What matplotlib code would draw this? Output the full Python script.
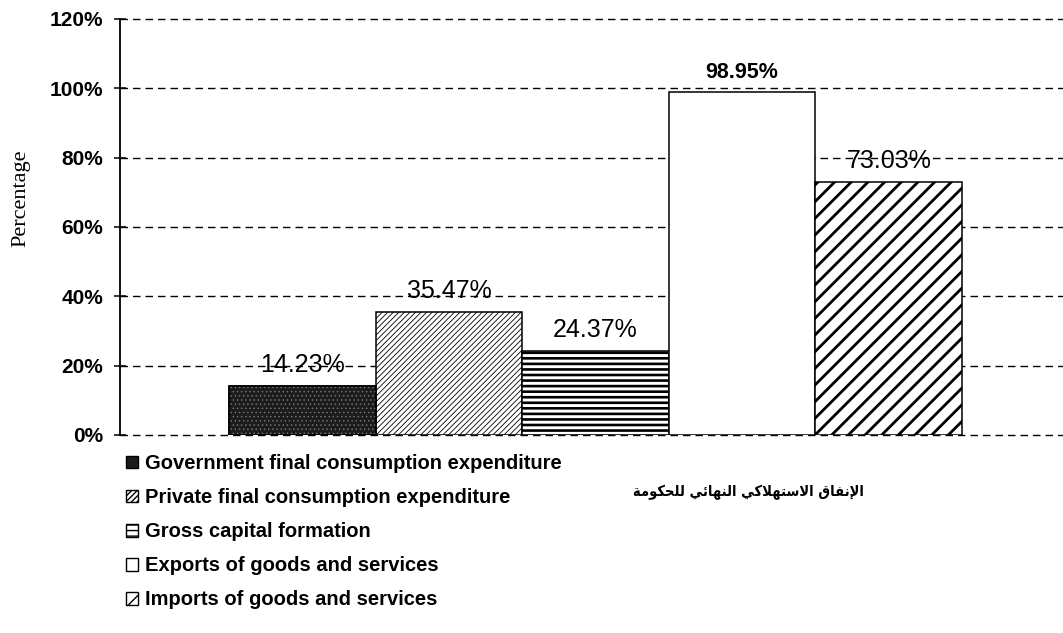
import numpy as np
import matplotlib
matplotlib.use("Agg")
import matplotlib.pyplot as plt
from matplotlib.patches import Patch

# ---------------- data ----------------
series = ["Government final consumption expenditure",
          "Private final consumption expenditure",
          "Gross capital formation",
          "Exports of goods and services",
          "Imports of goods and services"]
values = [14.23, 35.47, 24.37, 98.95, 73.03]
value_labels = ["14.23%", "35.47%", "24.37%", "98.95%", "73.03%"]
category = "الإنفاق الاستهلاكي النهائي للحكومة"
yticks = [0, 20, 40, 60, 80, 100, 120]
ytick_labels = ["0%", "20%", "40%", "60%", "80%", "100%", "120%"]

# ---------------- simple Arabic shaping (presentation forms, visual order) ----------------
FORMS = {
    '\u0627': ('\uFE8D', '\uFE8E', None, None),       # alef
    '\u0625': ('\uFE87', '\uFE88', None, None),       # alef hamza below
    '\u0644': ('\uFEDD', '\uFEDE', '\uFEDF', '\uFEE0'),  # lam
    '\u0646': ('\uFEE5', '\uFEE6', '\uFEE7', '\uFEE8'),  # noon
    '\u0641': ('\uFED1', '\uFED2', '\uFED3', '\uFED4'),  # feh
    '\u0642': ('\uFED5', '\uFED6', '\uFED7', '\uFED8'),  # qaf
    '\u0633': ('\uFEB1', '\uFEB2', '\uFEB3', '\uFEB4'),  # seen
    '\u062A': ('\uFE95', '\uFE96', '\uFE97', '\uFE98'),  # teh
    '\u0647': ('\uFEE9', '\uFEEA', '\uFEEB', '\uFEEC'),  # heh
    '\u0643': ('\uFED9', '\uFEDA', '\uFEDB', '\uFEDC'),  # kaf
    '\u064A': ('\uFEF1', '\uFEF2', '\uFEF3', '\uFEF4'),  # yeh
    '\u0626': ('\uFE89', '\uFE8A', '\uFE8B', '\uFE8C'),  # yeh hamza
    '\u062D': ('\uFEA1', '\uFEA2', '\uFEA3', '\uFEA4'),  # hah
    '\u0648': ('\uFEED', '\uFEEE', None, None),       # waw
    '\u0645': ('\uFEE1', '\uFEE2', '\uFEE3', '\uFEE4'),  # meem
    '\u0629': ('\uFE93', '\uFE94', None, None),       # teh marbuta
}
LAMALEF = {'\u0627': ('\uFEFB', '\uFEFC'), '\u0625': ('\uFEF9', '\uFEFA')}


def shape_arabic(text):
    chars = list(text)
    n = len(chars)

    def joins_prev(idx):
        if idx == 0:
            return False
        p = chars[idx - 1]
        return p in FORMS and FORMS[p][2] is not None

    out = []
    i = 0
    while i < n:
        c = chars[i]
        if c not in FORMS:
            out.append(c)
            i += 1
            continue
        if c == '\u0644' and i + 1 < n and chars[i + 1] in LAMALEF:
            iso, fin = LAMALEF[chars[i + 1]]
            out.append(fin if joins_prev(i) else iso)
            i += 2
            continue
        f = FORMS[c]
        prev = joins_prev(i)
        nxt = f[2] is not None and i + 1 < n and chars[i + 1] in FORMS
        if prev and nxt:
            g = f[3]
        elif prev:
            g = f[1]
        elif nxt:
            g = f[2]
        else:
            g = f[0]
        out.append(g)
        i += 1
    return ''.join(reversed(out))


# ---------------- styles ----------------
faces = ['#1c1c1c', 'white', 'white', 'white', 'white']
hatches = [None, '//////', '---', None, '//']
hatch_lw = [0.5, 0.6, 1.9, 1.0, 2.0]

plt.rcParams['font.family'] = ['Liberation Sans', 'DejaVu Sans']

fig = plt.figure(figsize=(10.63, 6.33), dpi=100)
ax = fig.add_axes([120 / 1063, 1 - 435 / 633, 1 - 120 / 1063, (435 - 19) / 633])

x = np.arange(len(values))
for i, v in enumerate(values):
    with plt.rc_context({'hatch.linewidth': hatch_lw[i]}):
        b = ax.bar(x[i], v, width=1.0, color=faces[i], edgecolor='black',
                   linewidth=1.1, hatch=hatches[i], zorder=3)
        if i == 0:
            # light speckle texture over the dark fill
            ax.bar(x[i], v, width=1.0, color='none', edgecolor='#7a7a7a',
                   linewidth=0, hatch='....', zorder=3.5)
            ax.bar(x[i], v, width=1.0, color='none', edgecolor='black',
                   linewidth=1.1, zorder=3.6)
    for p in b:
        if hasattr(p, 'set_hatch_linewidth'):
            p.set_hatch_linewidth(hatch_lw[i])

for i, v in enumerate(values):
    bold = (i == 3)
    ax.annotate(value_labels[i], (x[i], v), xytext=(0, 10), textcoords='offset points',
                ha='center', va='baseline',
                fontsize=15.5 if bold else 18,
                fontweight='bold' if bold else 'normal', zorder=5)

ax.set_xlim(-1.2435, 5.189)
ax.set_ylim(0, 120)
ax.set_yticks(yticks)
ax.set_yticklabels(ytick_labels, fontsize=15, fontweight='bold')
ax.set_xticks([])
ax.tick_params(axis='y', length=9, width=1.1, pad=7.7, direction='inout')
for s in ['top', 'right', 'bottom']:
    ax.spines[s].set_visible(False)
ax.spines['left'].set_linewidth(1.3)
ax.yaxis.grid(True, color='black', linewidth=1.0, linestyle=(0, (5.4, 3.6)), zorder=0)
ax.set_axisbelow(True)
for gl in ax.get_ygridlines():
    gl.set_clip_on(False)
ax.set_ylabel('Percentage', family='Liberation Serif', fontsize=16)
ax.yaxis.set_label_coords((30 - 120) / 943, (435 - 198) / 416)

# legend
handles = []
for i in range(len(values)):
    handles.append(Patch(facecolor=faces[i], edgecolor='black', linewidth=1.0,
                         hatch=hatches[i] if hatches[i] else None))
fig.legend(handles, series, loc='upper left', bbox_to_anchor=(126 / 1063, 1 - 454 / 633),
           frameon=False, handlelength=0.6, handleheight=0.6,
           prop={'size': 14.5, 'weight': 'bold'},
           handletextpad=0.35, labelspacing=0.75, borderpad=0, borderaxespad=0)

fig.text(748 / 1063, 1 - 492 / 633, shape_arabic(category), family='DejaVu Sans',
         fontweight='bold', fontstretch='condensed', fontsize=10.5,
         ha='center', va='center')

fig.savefig('out.png', dpi=100)
